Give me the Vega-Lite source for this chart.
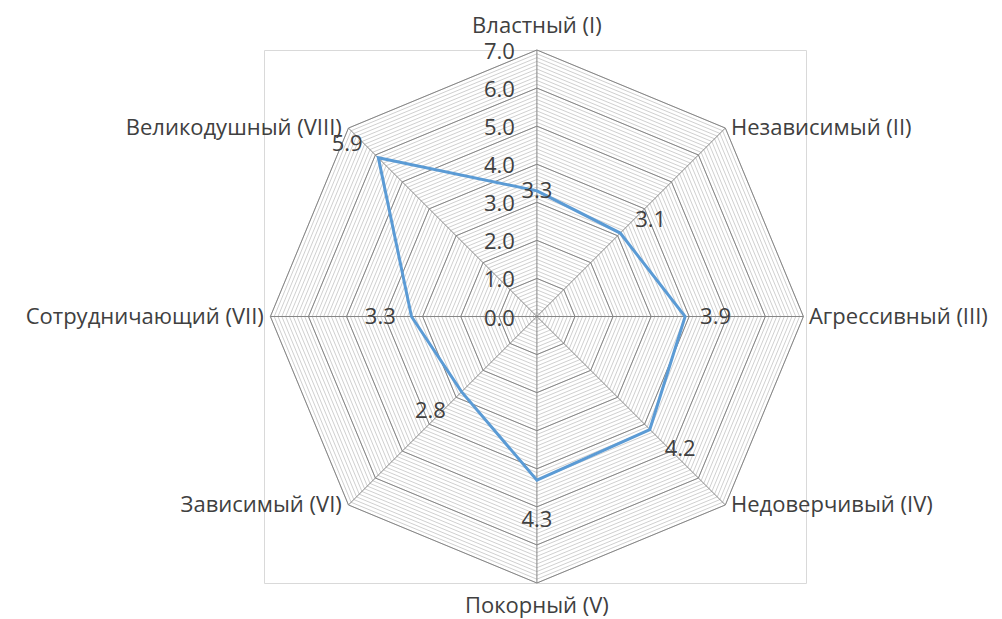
{
  "$schema": "https://vega.github.io/schema/vega-lite/v6.json",
  "width": 542,
  "height": 533,
  "autosize": "none",
  "padding": {"left": 264, "top": 50, "right": 196, "bottom": 36},
  "background": "white",
  "config": {"view": {"stroke": "#d9d9d9", "strokeWidth": 1}, "font": "Open Sans"},
  "datasets": {
    "scores": [
      {"name": "Властный (I)", "idx": 0, "value": 3.3},
      {"name": "Независимый (II)", "idx": 1, "value": 3.1},
      {"name": "Агрессивный (III)", "idx": 2, "value": 3.9},
      {"name": "Недоверчивый (IV)", "idx": 3, "value": 4.2},
      {"name": "Покорный (V)", "idx": 4, "value": 4.3},
      {"name": "Зависимый (VI)", "idx": 5, "value": 2.8},
      {"name": "Сотрудничающий (VII)", "idx": 6, "value": 3.3},
      {"name": "Великодушный (VIII)", "idx": 7, "value": 5.9}
    ],
    "levels": [
      {"level": 0.1}, {"level": 0.2}, {"level": 0.3}, {"level": 0.4}, {"level": 0.5}, {"level": 0.6}, {"level": 0.7}, {"level": 0.8}, {"level": 0.9}, {"level": 1.0},
      {"level": 1.1}, {"level": 1.2}, {"level": 1.3}, {"level": 1.4}, {"level": 1.5}, {"level": 1.6}, {"level": 1.7}, {"level": 1.8}, {"level": 1.9}, {"level": 2.0},
      {"level": 2.1}, {"level": 2.2}, {"level": 2.3}, {"level": 2.4}, {"level": 2.5}, {"level": 2.6}, {"level": 2.7}, {"level": 2.8}, {"level": 2.9}, {"level": 3.0},
      {"level": 3.1}, {"level": 3.2}, {"level": 3.3}, {"level": 3.4}, {"level": 3.5}, {"level": 3.6}, {"level": 3.7}, {"level": 3.8}, {"level": 3.9}, {"level": 4.0},
      {"level": 4.1}, {"level": 4.2}, {"level": 4.3}, {"level": 4.4}, {"level": 4.5}, {"level": 4.6}, {"level": 4.7}, {"level": 4.8}, {"level": 4.9}, {"level": 5.0},
      {"level": 5.1}, {"level": 5.2}, {"level": 5.3}, {"level": 5.4}, {"level": 5.5}, {"level": 5.6}, {"level": 5.7}, {"level": 5.8}, {"level": 5.9}, {"level": 6.0},
      {"level": 6.1}, {"level": 6.2}, {"level": 6.3}, {"level": 6.4}, {"level": 6.5}, {"level": 6.6}, {"level": 6.7}, {"level": 6.8}, {"level": 6.9}, {"level": 7.0}
    ],
    "ticks": [
      {"level": 0}, {"level": 1}, {"level": 2}, {"level": 3}, {"level": 4}, {"level": 5}, {"level": 6}, {"level": 7}
    ]
  },
  "layer": [
    {
      "data": {"name": "levels"},
      "mark": {"type": "point", "shape": "M0,-1L0.70711,-0.70711L1,0L0.70711,0.70711L0,1L-0.70711,0.70711L-1,0L-0.70711,-0.70711Z", "filled": false, "strokeWidth": 1, "opacity": 1, "color": "#d0d0d0"},
      "encoding": {
        "x": {"datum": 0, "type": "quantitative", "scale": {"domain": [-7.18, 7.08], "nice": false, "zero": false}, "axis": null},
        "y": {"datum": 0, "type": "quantitative", "scale": {"domain": [-7, 7], "nice": false, "zero": false}, "axis": null},
        "size": {"field": "level", "type": "quantitative", "scale": {"type": "pow", "exponent": 2, "domain": [0, 7], "range": [0, 284089]}, "legend": null}
      }
    },
    {
      "data": {"name": "ticks"},
      "transform": [{"filter": "datum.level > 0"}],
      "mark": {"type": "point", "shape": "M0,-1L0.70711,-0.70711L1,0L0.70711,0.70711L0,1L-0.70711,0.70711L-1,0L-0.70711,-0.70711Z", "filled": false, "strokeWidth": 1, "opacity": 1, "color": "#868686"},
      "encoding": {
        "x": {"datum": 0, "type": "quantitative", "axis": null},
        "y": {"datum": 0, "type": "quantitative", "axis": null},
        "size": {"field": "level", "type": "quantitative", "legend": null}
      }
    },
    {
      "data": {"values": [{"level": 7}]},
      "mark": {"type": "point", "shape": "M0,-1L0,1M-1,0L1,0M-0.70711,-0.70711L0.70711,0.70711M0.70711,-0.70711L-0.70711,0.70711", "filled": false, "strokeWidth": 1, "opacity": 1, "color": "#868686"},
      "encoding": {
        "x": {"datum": 0, "type": "quantitative", "axis": null},
        "y": {"datum": 0, "type": "quantitative", "axis": null},
        "size": {"field": "level", "type": "quantitative", "legend": null}
      }
    },
    {
      "data": {"name": "ticks"},
      "mark": {"type": "text", "align": "right", "baseline": "middle", "dx": -22, "dy": 2, "fontSize": 22, "color": "#404040"},
      "encoding": {
        "x": {"datum": 0, "type": "quantitative", "axis": null},
        "y": {"field": "level", "type": "quantitative", "axis": null},
        "text": {"field": "level", "type": "quantitative", "format": ".1f"}
      }
    },
    {
      "data": {"name": "scores"},
      "transform": [
        {"calculate": "datum.idx * PI / 4", "as": "ang"},
        {"calculate": "datum.value * sin(datum.ang)", "as": "px"},
        {"calculate": "datum.value * cos(datum.ang)", "as": "py"}
      ],
      "mark": {"type": "line", "interpolate": "linear-closed", "color": "#5b9bd5", "strokeWidth": 3},
      "encoding": {
        "x": {"field": "px", "type": "quantitative", "axis": null},
        "y": {"field": "py", "type": "quantitative", "axis": null},
        "order": {"field": "idx", "type": "quantitative"}
      }
    },
    {
      "data": {"name": "scores"},
      "transform": [
        {"calculate": "datum.idx * PI / 4", "as": "ang"},
        {"calculate": "sin(datum.ang)", "as": "s"},
        {"calculate": "cos(datum.ang)", "as": "c"},
        {"calculate": "datum.value * datum.s + (abs(datum.s) > 0.1 ? (datum.s > 0 ? 0.8 : -0.82) : 0)", "as": "lx"},
        {"calculate": "datum.value * datum.c + (datum.idx == 4 ? -1.05 : ((abs(datum.s) > 0.1 && abs(datum.c) > 0.1) ? (datum.c > 0 ? 0.35 : -0.5) : 0))", "as": "ly"}
      ],
      "mark": {"type": "text", "align": "center", "baseline": "middle", "fontSize": 22, "color": "#404040"},
      "encoding": {
        "x": {"field": "lx", "type": "quantitative", "axis": null},
        "y": {"field": "ly", "type": "quantitative", "axis": null},
        "text": {"field": "value", "type": "quantitative", "format": ".1f"}
      }
    },
    {
      "data": {"name": "scores"},
      "transform": [
        {"filter": "datum.idx >= 1 && datum.idx <= 3"},
        {"calculate": "datum.idx * PI / 4", "as": "ang"},
        {"calculate": "7 * sin(datum.ang)", "as": "cx"},
        {"calculate": "7 * cos(datum.ang)", "as": "cy"}
      ],
      "mark": {"type": "text", "align": "left", "baseline": "middle", "dx": 6, "fontSize": 22, "color": "#404040"},
      "encoding": {
        "x": {"field": "cx", "type": "quantitative", "axis": null},
        "y": {"field": "cy", "type": "quantitative", "axis": null},
        "text": {"field": "name", "type": "nominal"}
      }
    },
    {
      "data": {"name": "scores"},
      "transform": [
        {"filter": "datum.idx >= 5"},
        {"calculate": "datum.idx * PI / 4", "as": "ang"},
        {"calculate": "7 * sin(datum.ang)", "as": "cx"},
        {"calculate": "7 * cos(datum.ang)", "as": "cy"}
      ],
      "mark": {"type": "text", "align": "right", "baseline": "middle", "dx": -7, "fontSize": 22, "color": "#404040"},
      "encoding": {
        "x": {"field": "cx", "type": "quantitative", "axis": null},
        "y": {"field": "cy", "type": "quantitative", "axis": null},
        "text": {"field": "name", "type": "nominal"}
      }
    },
    {
      "data": {"name": "scores"},
      "transform": [
        {"filter": "datum.idx == 0"}
      ],
      "mark": {"type": "text", "align": "center", "baseline": "alphabetic", "dy": -17, "fontSize": 22, "color": "#404040"},
      "encoding": {
        "x": {"datum": 0, "type": "quantitative", "axis": null},
        "y": {"datum": 7, "type": "quantitative", "axis": null},
        "text": {"field": "name", "type": "nominal"}
      }
    },
    {
      "data": {"name": "scores"},
      "transform": [
        {"filter": "datum.idx == 4"}
      ],
      "mark": {"type": "text", "align": "center", "baseline": "alphabetic", "dy": 30, "fontSize": 22, "color": "#404040"},
      "encoding": {
        "x": {"datum": 0, "type": "quantitative", "axis": null},
        "y": {"datum": -7, "type": "quantitative", "axis": null},
        "text": {"field": "name", "type": "nominal"}
      }
    }
  ]
}
